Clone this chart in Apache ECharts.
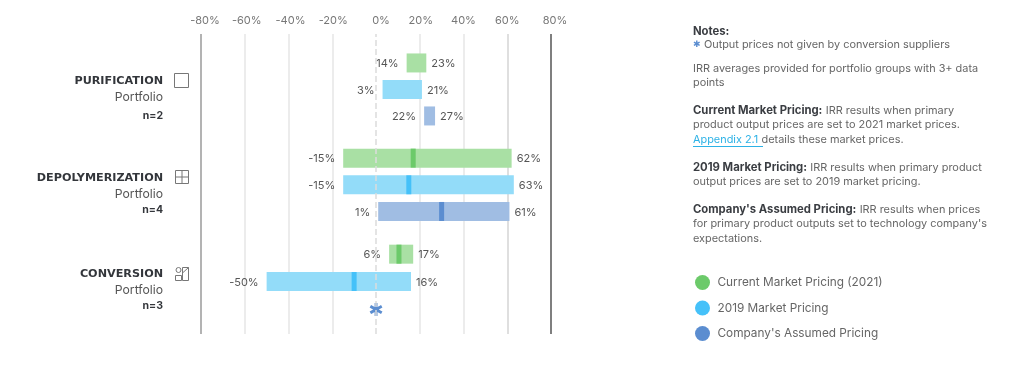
<!DOCTYPE html>
<html><head><meta charset="utf-8">
<style>html,body{margin:0;padding:0;background:#fff}#c{width:1024px;height:382px}</style>
<script src="https://cdn.jsdelivr.net/npm/echarts@6/dist/echarts.min.js"></script>
</head><body><div id="c"></div>
<script>
const tickValues = [-80,-60,-40,-20,0,20,40,60,80];
const groupNames = ['PURIFICATION','DEPOLYMERIZATION','CONVERSION'];
const groupSub = ['Portfolio','Portfolio','Portfolio'];
const groupN = ['n=2','n=4','n=3'];
const pricingNames = ['Current Market Pricing (2021)','2019 Market Pricing',"Company's Assumed Pricing"];
const currentLow  = [14,-15,6];
const currentAvg  = [null,17,10.5];
const currentHigh = [23,62,17];
const m2019Low  = [3,-15,-50];
const m2019Avg  = [null,15,-10];
const m2019High = [21,63,16];
const assumedLow  = [22,1,null];
const assumedAvg  = [null,30,null];
const assumedHigh = [27,61,null];

const lows=[currentLow,m2019Low,assumedLow], avgs=[currentAvg,m2019Avg,assumedAvg], highs=[currentHigh,m2019High,assumedHigh];
const dark=['#6cca6a','#45c1f9','#5b8dd0'], light=['#a9e0a4','#93dcf9','#a0bde3'];
const FONT='Inter', TXT='#555';
const bands=[[49.7,79.5],[144.8,80],[240.5,82]];

function renderer(p){return function(params,api){
  const row=api.value(0), lo=api.value(1), mid=api.value(2), hi=api.value(3);
  const y=api.coord([0,row])[1], h=19, ch=[];
  if(isNaN(lo)||isNaN(hi)){
    const c=api.coord([0,row]);
    return {type:'text',x:c[0],y:c[1]+2,style:{text:'\u2731',fontFamily:'DejaVu Sans',fontSize:18,fontWeight:'bold',fill:dark[p],align:'center',verticalAlign:'middle'}};
  }
  const x0=api.coord([lo,row])[0], x1=api.coord([hi,row])[0];
  ch.push({type:'rect',shape:{x:x0,y:y-h/2,width:x1-x0,height:h},style:{fill:light[p]}});
  if(!isNaN(mid)){const xm=api.coord([mid,row])[0];
    ch.push({type:'rect',shape:{x:xm-2.5,y:y-h/2,width:5,height:h},style:{fill:dark[p]}});}
  const st={fontFamily:FONT,fontSize:11,fill:TXT,verticalAlign:'middle'};
  ch.push({type:'text',x:x0-8,y:y+1,style:Object.assign({text:lo+'%',align:'right'},st)});
  ch.push({type:'text',x:x1+5,y:y+1,style:Object.assign({text:hi+'%',align:'left'},st)});
  return {type:'group',children:ch};
};}

// small nudges of the tick labels, as in the reference
const tickRich={};
const nudge=[[4,0],[2,0],[2,0],[1,0],[5,0],[1,2],[0,0],[0,0],[4,2]];
nudge.forEach((n,i)=>{tickRich['t'+i]={fontFamily:FONT,fontSize:11,color:'#777',padding:[n[1],0,0,n[0]*2]};});

const grids=[{left:201,width:350,top:34,height:300}], xAxes=[{
  gridIndex:0,type:'value',min:-80,max:80,interval:20,position:'top',
  axisLine:{show:false},axisTick:{show:false},
  axisLabel:{show:true,margin:8,fontFamily:FONT,fontSize:11,color:'#777',rich:tickRich,
    formatter:v=>'{t'+tickValues.indexOf(v)+'|'+v+'%}',showMinLabel:true,showMaxLabel:true},
  splitLine:{show:true,showMinLine:true,showMaxLine:true,lineStyle:{width:1.5,color:['#9a9a9a','#e6e6e6','#e6e6e6','#e6e6e6','rgba(0,0,0,0)','#e6e6e6','#e6e6e6','#d4d4d4','#555555']}}
}], yAxes=[{gridIndex:0,type:'value',min:0,max:1,show:false}];
const series=[{type:'line',xAxisIndex:0,yAxisIndex:0,data:[],silent:true,
  markLine:{silent:true,symbol:'none',label:{show:false},lineStyle:{type:'dashed',color:'#dcdcdc',width:1.5},data:[{xAxis:0}]}}];
bands.forEach((b,g)=>{
  const i=g+1;
  grids.push({left:201,width:350,top:b[0],height:b[1]});
  xAxes.push({gridIndex:i,type:'value',min:-80,max:80,interval:20,show:false,splitLine:{show:false}});
  yAxes.push({gridIndex:i,type:'category',inverse:true,data:pricingNames,show:false});
  pricingNames.forEach((name,p)=>{
    series.push({type:'custom',name:name,xAxisIndex:i,yAxisIndex:i,z:3,
      itemStyle:{color:dark[p]},renderItem:renderer(p),silent:true,
      encode:{x:[1,2,3],y:0},
      data:[[p,lows[p][g]===null?'-':lows[p][g],avgs[p][g]===null?'-':avgs[p][g],highs[p][g]===null?'-':highs[p][g]]]});
  });
});

const graphic=[];
const sideY=[[81,97,116],[178,194,210],[274,290,306]];
groupNames.forEach((n,g)=>{
  const sy=sideY[g];
  graphic.push({type:'text',x:163,y:sy[0],style:{text:n,fontFamily:'DejaVu Sans',fontWeight:'bold',fontSize:11.2,fill:'#33363b',align:'right',verticalAlign:'middle'}});
  graphic.push({type:'text',x:163,y:sy[1],style:{text:groupSub[g],fontFamily:FONT,fontSize:12.2,fill:TXT,align:'right',verticalAlign:'middle'}});
  graphic.push({type:'text',x:163,y:sy[2],style:{text:groupN[g],fontFamily:FONT,fontWeight:'bold',fontSize:10.5,fill:'#33363b',align:'right',verticalAlign:'middle'}});
});
const ic={fill:'none',stroke:'#777',lineWidth:1};
graphic.push({type:'rect',shape:{x:174.5,y:73.5,width:14,height:14},style:ic});
graphic.push({type:'rect',shape:{x:175.5,y:170.5,width:13,height:13},style:ic});
graphic.push({type:'line',shape:{x1:182,y1:170.5,x2:182,y2:183.5},style:ic});
graphic.push({type:'line',shape:{x1:175.5,y1:177,x2:188.5,y2:177},style:ic});
graphic.push({type:'circle',shape:{cx:178.5,cy:270,r:2.5},style:ic});
graphic.push({type:'rect',shape:{x:175.5,y:275.5,width:6,height:5},style:ic});
graphic.push({type:'rect',shape:{x:182.5,y:267.5,width:6,height:13},style:ic});
graphic.push({type:'line',shape:{x1:182.5,y1:273,x2:188.5,y2:267.5},style:ic});

const NS=10.9;
const rich={b:{fontFamily:FONT,fontWeight:'bold',fontSize:11.3,fill:'#3a3d42'},
  n:{fontFamily:FONT,fontSize:NS,fill:'#666'},
  a:{fontFamily:FONT,fontSize:NS,fill:'#2db2e6'},
  s:{fontFamily:'DejaVu Sans',fontSize:9,fill:dark[2]}};
const noteLines=[
 [32,'{b|Notes:}'],
 [45,'{s|\u2731} {n|Output prices not given by conversion suppliers}'],
 [69,'{n|IRR averages provided for portfolio groups with 3+ data}'],
 [83,'{n|points}'],
 [111,'{b|Current Market Pricing:} {n|IRR results when primary}'],
 [125,'{n|product output prices are set to 2021 market prices.}'],
 [140,'{a|Appendix 2.1} {n|details these market prices.}'],
 [168,'{b|2019 Market Pricing:} {n|IRR results when primary product}'],
 [182,'{n|output prices are set to 2019 market pricing.}'],
 [210,"{b|Company's Assumed Pricing:} {n|IRR results when prices}"],
 [224,"{n|for primary product outputs set to technology company's}"],
 [239,'{n|expectations.}']
];
noteLines.forEach(l=>graphic.push({type:'text',x:693,y:l[0],style:{text:l[1],rich:rich,verticalAlign:'middle',align:'left'}}));
graphic.push({type:'line',shape:{x1:693,y1:146.5,x2:763,y2:146.5},style:{stroke:'#2db2e6',lineWidth:1}});

const chart=echarts.init(document.getElementById('c'),null,{renderer:'canvas'});
chart.setOption({animation:false,backgroundColor:'#fff',
  grid:grids,xAxis:xAxes,yAxis:yAxes,series:series,graphic:graphic,
  legend:{orient:'vertical',left:695,top:275,icon:'circle',itemWidth:20,itemHeight:15,itemGap:10.5,selectedMode:false,data:pricingNames,
    textStyle:{fontFamily:FONT,fontSize:11.8,color:'#666'},formatter:n=>n,padding:0}
});
</script></body></html>
